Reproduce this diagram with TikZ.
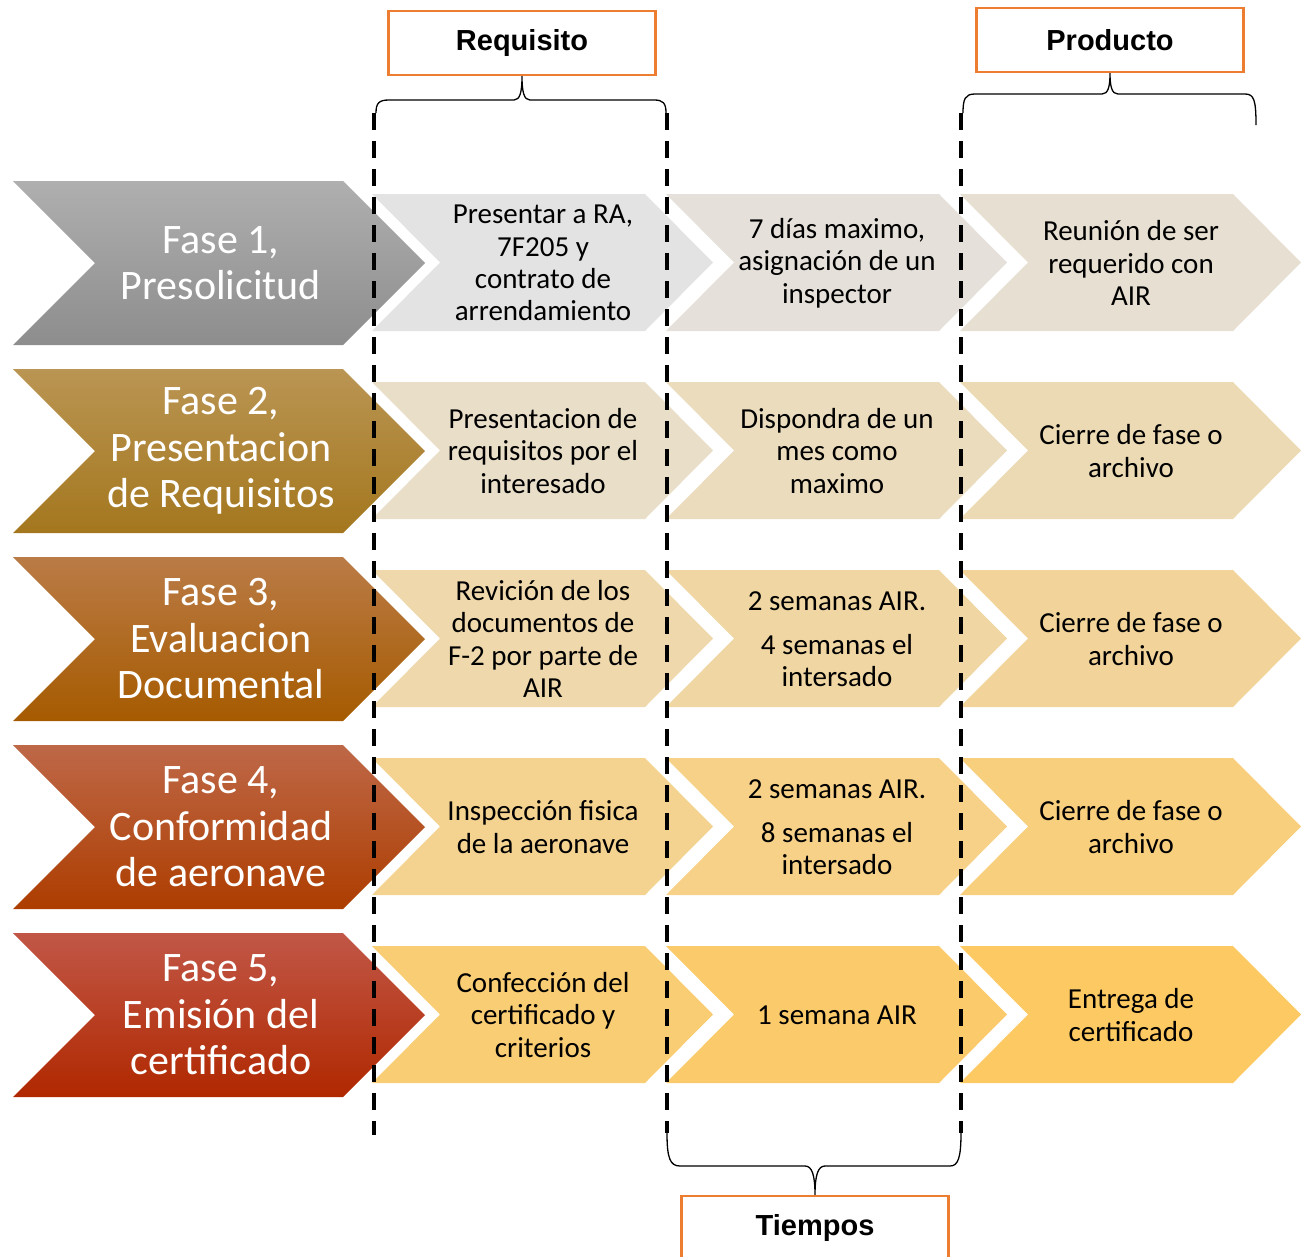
\documentclass[tikz,border=0pt]{standalone}
\usepackage{amsmath,amssymb}
\usepackage{fontspec}
\setmainfont{Carlito}
\newfontfamily\hdrfont{Liberation Sans}
\usepackage{tikz}
\definecolor{hdrorange}{HTML}{ED7D31}
\definecolor{chevgray}{HTML}{E3E3E3}
\definecolor{chevgold}{HTML}{FDC962}
\definecolor{faseAtop}{HTML}{AFAFAF}
\definecolor{faseAbot}{HTML}{8D8D8D}
\definecolor{faseBtop}{HTML}{BA9553}
\definecolor{faseBbot}{HTML}{A4771E}
\definecolor{faseCtop}{HTML}{BA7B46}
\definecolor{faseCbot}{HTML}{A65B00}
\definecolor{faseDtop}{HTML}{BE6848}
\definecolor{faseDbot}{HTML}{AD3D00}
\definecolor{faseEtop}{HTML}{C15747}
\definecolor{faseEbot}{HTML}{B02800}

\begin{document}
\begin{tikzpicture}[x=1pt,y=-1pt,
  fasetxt/.style={text=white,align=center,font=\fontsize{42}{46.5}\selectfont},
  celltxt/.style={text=black,align=center,font=\fontsize{29}{32.3}\selectfont},
  hdrbox/.style={draw=hdrorange,line width=2.5pt,fill=white,minimum width=267pt,minimum height=64pt,
    font=\hdrfont\bfseries\fontsize{29}{34}\selectfont},
  cutline/.style={line width=4pt,dash pattern=on 17pt off 11pt},
  bracket/.style={line width=1.3pt}]
\clip (0,0) rectangle (1301,1256);
% Drawing small chevrons (columns: requisito, tiempo, producto)
% Row 1
\fill[chevgold!0!chevgray] (372,194) -- ++(273,0) -- ++(68,68.5) -- ++(-68,68.5) -- ++(-273,0) -- ++(68,-68.5) -- cycle;
\fill[chevgold!7!chevgray] (666,194) -- ++(273,0) -- ++(68,68.5) -- ++(-68,68.5) -- ++(-273,0) -- ++(68,-68.5) -- cycle;
\fill[chevgold!14!chevgray] (960,194) -- ++(273,0) -- ++(68,68.5) -- ++(-68,68.5) -- ++(-273,0) -- ++(68,-68.5) -- cycle;
% Row 2
\fill[chevgold!21!chevgray] (372,382) -- ++(273,0) -- ++(68,68.5) -- ++(-68,68.5) -- ++(-273,0) -- ++(68,-68.5) -- cycle;
\fill[chevgold!29!chevgray] (666,382) -- ++(273,0) -- ++(68,68.5) -- ++(-68,68.5) -- ++(-273,0) -- ++(68,-68.5) -- cycle;
\fill[chevgold!36!chevgray] (960,382) -- ++(273,0) -- ++(68,68.5) -- ++(-68,68.5) -- ++(-273,0) -- ++(68,-68.5) -- cycle;
% Row 3
\fill[chevgold!43!chevgray] (372,570) -- ++(273,0) -- ++(68,68.5) -- ++(-68,68.5) -- ++(-273,0) -- ++(68,-68.5) -- cycle;
\fill[chevgold!50!chevgray] (666,570) -- ++(273,0) -- ++(68,68.5) -- ++(-68,68.5) -- ++(-273,0) -- ++(68,-68.5) -- cycle;
\fill[chevgold!57!chevgray] (960,570) -- ++(273,0) -- ++(68,68.5) -- ++(-68,68.5) -- ++(-273,0) -- ++(68,-68.5) -- cycle;
% Row 4
\fill[chevgold!64!chevgray] (372,758) -- ++(273,0) -- ++(68,68.5) -- ++(-68,68.5) -- ++(-273,0) -- ++(68,-68.5) -- cycle;
\fill[chevgold!71!chevgray] (666,758) -- ++(273,0) -- ++(68,68.5) -- ++(-68,68.5) -- ++(-273,0) -- ++(68,-68.5) -- cycle;
\fill[chevgold!79!chevgray] (960,758) -- ++(273,0) -- ++(68,68.5) -- ++(-68,68.5) -- ++(-273,0) -- ++(68,-68.5) -- cycle;
% Row 5
\fill[chevgold!86!chevgray] (372,946) -- ++(273,0) -- ++(68,68.5) -- ++(-68,68.5) -- ++(-273,0) -- ++(68,-68.5) -- cycle;
\fill[chevgold!93!chevgray] (666,946) -- ++(273,0) -- ++(68,68.5) -- ++(-68,68.5) -- ++(-273,0) -- ++(68,-68.5) -- cycle;
\fill[chevgold!100!chevgray] (960,946) -- ++(273,0) -- ++(68,68.5) -- ++(-68,68.5) -- ++(-273,0) -- ++(68,-68.5) -- cycle;
% Drawing phase chevrons
\shade[top color=faseAtop,bottom color=faseAbot] (13,181) -- ++(330,0) -- ++(82,82) -- ++(-82,82) -- ++(-330,0) -- ++(82,-82) -- cycle;
\shade[top color=faseBtop,bottom color=faseBbot] (13,369) -- ++(330,0) -- ++(82,82) -- ++(-82,82) -- ++(-330,0) -- ++(82,-82) -- cycle;
\shade[top color=faseCtop,bottom color=faseCbot] (13,557) -- ++(330,0) -- ++(82,82) -- ++(-82,82) -- ++(-330,0) -- ++(82,-82) -- cycle;
\shade[top color=faseDtop,bottom color=faseDbot] (13,745) -- ++(330,0) -- ++(82,82) -- ++(-82,82) -- ++(-330,0) -- ++(82,-82) -- cycle;
\shade[top color=faseEtop,bottom color=faseEbot] (13,933) -- ++(330,0) -- ++(82,82) -- ++(-82,82) -- ++(-330,0) -- ++(82,-82) -- cycle;
% Phase labels
\node[fasetxt] (fase1) at (221,263) {Fase 1,\\Presolicitud};
\node[fasetxt] (fase2) at (221,451) {Fase 2,\\Presentacion\\de Requisitos};
\node[fasetxt] (fase3) at (221,639) {Fase 3,\\Evaluacion\\Documental};
\node[fasetxt] (fase4) at (221,827) {Fase 4,\\Conformidad\\de aeronave};
\node[fasetxt] (fase5) at (221,1015) {Fase 5,\\Emisión del\\certificado};
% Requisito column
\node[celltxt] (req1) at (543,263) {Presentar a RA,\\7F205 y\\contrato de\\arrendamiento};
\node[celltxt] (req2) at (543,451) {Presentacion de\\requisitos por el\\interesado};
\node[celltxt] (req3) at (543,639) {Revición de los\\documentos de\\F-2 por parte de\\AIR};
\node[celltxt] (req4) at (543,827) {Inspección fisica\\de la aeronave};
\node[celltxt] (req5) at (543,1015) {Confección del\\certificado y\\criterios};
% Tiempos column
\node[celltxt] (tmp1) at (837,263) {7 días maximo,\\asignación de un\\inspector};
\node[celltxt] (tmp2) at (837,451) {Dispondra de un\\mes como\\maximo};
\node[celltxt] (tmp3) at (837,639) {2 semanas AIR.\\[12pt]4 semanas el\\intersado};
\node[celltxt] (tmp4) at (837,827) {2 semanas AIR.\\[12pt]8 semanas el\\intersado};
\node[celltxt] (tmp5) at (837,1015) {1 semana AIR};
% Producto column
\node[celltxt] (prd1) at (1131,263) {Reunión de ser\\requerido con\\AIR};
\node[celltxt] (prd2) at (1131,451) {Cierre de fase o\\archivo};
\node[celltxt] (prd3) at (1131,639) {Cierre de fase o\\archivo};
\node[celltxt] (prd4) at (1131,827) {Cierre de fase o\\archivo};
\node[celltxt] (prd5) at (1131,1015) {Entrega de\\certificado};
% Cut lines
\draw[cutline] (374,113) -- (374,1135);
\draw[cutline] (667,113) -- (667,1133);
\draw[cutline] (961,113) -- (961,1133);
% Headers
\node[hdrbox] (requisito) at (522,43) {Requisito};
\node[hdrbox] (producto) at (1110,40) {Producto};
\node[hdrbox] (tiempos) at (815,1228) {Tiempos};
% Brackets
\coordinate (reqL) at (376,113);
\coordinate (reqR) at (666,113);
\draw[bracket] (reqL) .. controls (376,103) and (379,100) .. (389,100) -- (514,100)
  .. controls (520,100) and (522,92) .. (requisito.south) .. controls (522,92) and (524,100) .. (530,100)
  -- (654,100) .. controls (663,100) and (666,103) .. (reqR);
\coordinate (prdL) at (963,113);
\coordinate (prdR) at (1256,125);
\draw[bracket] (prdL) .. controls (963,99) and (965,94) .. (975,94) -- (1102,94)
  .. controls (1108,94) and (1110,87) .. (producto.south) .. controls (1110,87) and (1112,94) .. (1118,94)
  -- (1245,94) .. controls (1254,94) and (1256,100) .. (prdR);
\coordinate (tmpL) at (667,1133);
\coordinate (tmpR) at (961,1133);
\draw[bracket] (tmpL) .. controls (667,1158) and (670,1166) .. (680,1166) -- (805,1166)
  .. controls (812,1166) and (815,1175) .. (tiempos.north) .. controls (815,1175) and (818,1166) .. (825,1166)
  -- (950,1166) .. controls (958,1166) and (961,1158) .. (tmpR);
\end{tikzpicture}
\end{document}
